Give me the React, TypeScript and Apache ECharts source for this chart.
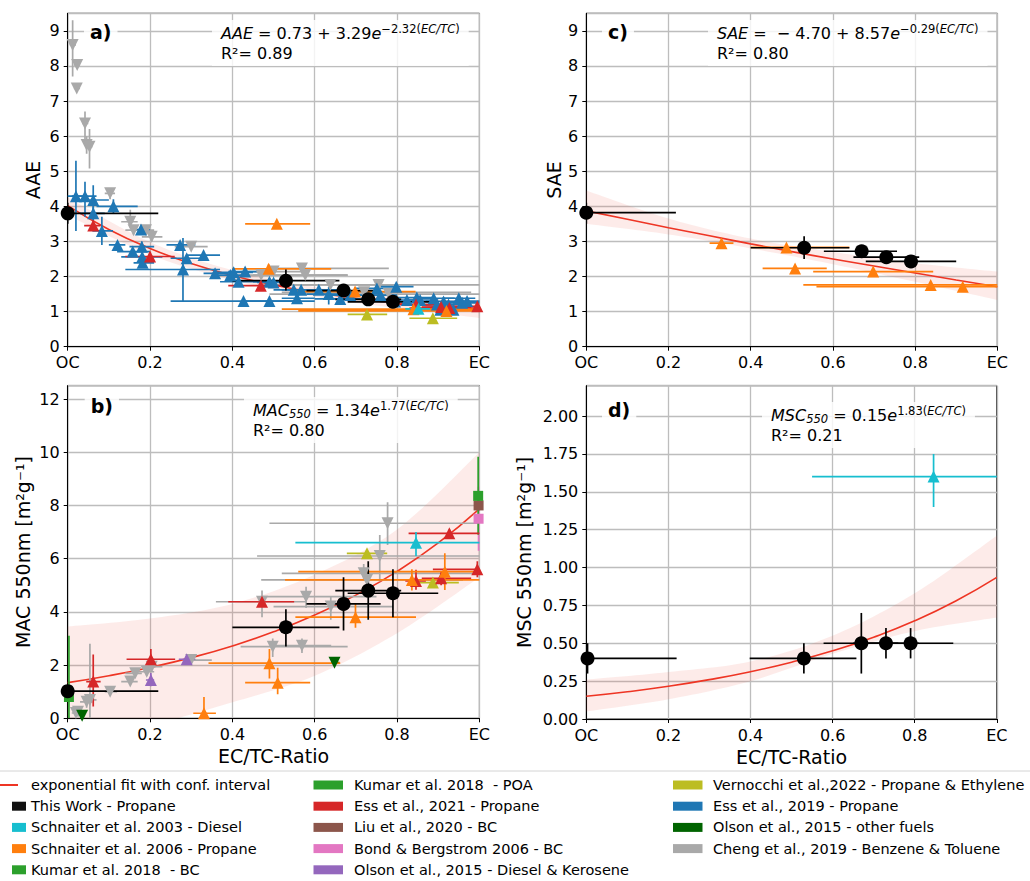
import React, { useEffect, useRef } from "react";
import * as echarts from "echarts";

const FONT = "DejaVu Sans";

// ---------- fit curves (read at EC/TC = 0, 0.1 ... 1.0) ----------
const fitX = [0, 0.1, 0.2, 0.3, 0.4, 0.5, 0.6, 0.7, 0.8, 0.9, 1.0];
const fitAAE = [4.02, 3.34, 2.8, 2.37, 2.03, 1.76, 1.55, 1.38, 1.24, 1.14, 1.05];
const fitSAE = [3.87, 3.63, 3.39, 3.16, 2.93, 2.71, 2.5, 2.3, 2.1, 1.9, 1.71];
const fitMAC = [1.34, 1.6, 1.91, 2.28, 2.72, 3.25, 3.88, 4.63, 5.52, 6.59, 7.87];
const fitMSC = [0.15, 0.18, 0.216, 0.26, 0.312, 0.375, 0.45, 0.54, 0.648, 0.779, 0.935];

// ---------- confidence bands ----------
const bandX = [0, 0.2, 0.4, 0.6, 0.8, 1.0];
const bandAAELo = [3.75, 2.62, 1.9, 1.42, 1.1, 0.82];
const bandAAEHi = [4.25, 2.98, 2.18, 1.7, 1.42, 1.3];
const bandSAELo = [3.5, 3.2, 2.8, 2.35, 1.85, 1.33];
const bandSAEHi = [4.45, 3.65, 3.08, 2.7, 2.38, 2.14];
const bandMACLo = [-0.8, -0.25, 0.6, 1.6, 3.2, 5.3];
const bandMACHi = [3.45, 3.75, 4.3, 5.4, 7.1, 10.0];
const bandMSCLo = [0.05, 0.13, 0.25, 0.43, 0.58, 0.67];
const bandMSCHi = [0.26, 0.31, 0.38, 0.55, 0.83, 1.21];

// ---------- data points: [x, y, xLow, xHigh, yLow, yHigh] ----------
// Panel a) AAE
const thisWorkA = [
  [0, 3.8, 0, 0.22, 3.5, 4.1],
  [0.53, 1.88, 0.4, 0.66, 1.6, 2.2],
  [0.67, 1.6, 0.58, 0.76, 1.45, 1.75],
  [0.73, 1.35, 0.65, 0.81, 1.25, 1.45],
  [0.79, 1.28, 0.68, 0.9, 1.2, 1.38],
];
const schnaiter03A = [[0.852, 1.08, 0.82, 0.88, 1.0, 1.15]];
const schnaiter06A = [
  [0.508, 3.5, 0.431, 0.589, 3.5, 3.5],
  [0.488, 2.22, 0.4, 0.64, 2.1, 2.35],
  [0.698, 1.57, 0.55, 0.845, 1.45, 1.7],
  [0.84, 1.07, 0.52, 1.0, 1.07, 1.07],
  [0.92, 1.02, 0.56, 1.0, 1.02, 1.02],
];
const ess21A = [
  [0.062, 3.45, 0.04, 0.08, 3.3, 3.6],
  [0.2, 2.57, 0.14, 0.26, 2.45, 2.7],
  [0.469, 1.74, 0.39, 0.52, 1.65, 1.85],
  [0.846, 1.2, 0.8, 0.9, 1.1, 1.3],
  [0.907, 1.13, 0.86, 0.98, 1.05, 1.2],
  [0.927, 1.1, 0.83, 1.0, 1.0, 1.2],
  [0.995, 1.15, 0.89, 1.0, 1.05, 1.25],
];
const vernocchiA = [
  [0.727, 0.92, 0.68, 0.776, 0.92, 0.92],
  [0.887, 0.81, 0.83, 0.946, 0.81, 0.81],
];
const ess19A = [
  [0.02, 4.29, 0.0, 0.04, 3.3, 5.3],
  [0.042, 4.29, 0.01, 0.07, 3.7, 4.7],
  [0.062, 4.18, 0.02, 0.1, 3.6, 4.6],
  [0.111, 4.0, 0.07, 0.17, 3.8, 4.2],
  [0.062, 3.8, 0.03, 0.09, 3.6, 4.0],
  [0.083, 3.3, 0.06, 0.11, 2.9, 3.7],
  [0.121, 2.9, 0.1, 0.14, 2.8, 3.0],
  [0.158, 2.71, 0.12, 0.2, 2.6, 2.8],
  [0.178, 3.34, 0.16, 0.2, 3.2, 3.45],
  [0.18, 2.85, 0.15, 0.21, 2.7, 3.0],
  [0.181, 2.56, 0.13, 0.23, 2.45, 2.7],
  [0.182, 2.39, 0.16, 0.21, 2.3, 2.5],
  [0.273, 2.9, 0.24, 0.31, 2.8, 3.0],
  [0.289, 2.52, 0.25, 0.33, 2.4, 2.6],
  [0.28, 2.2, 0.14, 0.37, 1.3, 3.1],
  [0.33, 2.61, 0.29, 0.37, 2.5, 2.7],
  [0.358, 2.09, 0.33, 0.39, 2.0, 2.2],
  [0.395, 2.04, 0.35, 0.44, 1.95, 2.15],
  [0.403, 2.12, 0.36, 0.45, 2.0, 2.25],
  [0.415, 1.85, 0.37, 0.46, 1.75, 1.95],
  [0.431, 2.14, 0.39, 0.47, 2.05, 2.25],
  [0.427, 1.3, 0.25, 0.6, 1.3, 1.3],
  [0.49, 1.3, 0.43, 0.55, 1.3, 1.3],
  [0.49, 1.85, 0.45, 0.53, 1.75, 1.95],
  [0.5, 1.83, 0.46, 0.54, 1.75, 1.9],
  [0.549, 1.62, 0.5, 0.6, 1.55, 1.7],
  [0.557, 1.38, 0.52, 0.6, 1.3, 1.45],
  [0.567, 1.62, 0.52, 0.61, 1.55, 1.7],
  [0.61, 1.62, 0.56, 0.66, 1.55, 1.7],
  [0.634, 1.5, 0.58, 0.69, 1.2, 1.7],
  [0.662, 1.36, 0.6, 0.72, 1.3, 1.45],
  [0.686, 1.47, 0.64, 0.73, 1.4, 1.55],
  [0.751, 1.66, 0.7, 0.8, 1.5, 1.8],
  [0.76, 1.47, 0.72, 0.8, 1.4, 1.55],
  [0.798, 1.71, 0.76, 0.84, 1.6, 1.8],
  [0.795, 1.29, 0.76, 0.83, 1.2, 1.35],
  [0.824, 1.33, 0.79, 0.86, 1.25, 1.4],
  [0.848, 1.4, 0.8, 0.89, 1.3, 1.5],
  [0.856, 1.33, 0.82, 0.9, 1.25, 1.4],
  [0.889, 1.38, 0.84, 0.94, 1.3, 1.45],
  [0.897, 1.2, 0.86, 0.94, 1.1, 1.3],
  [0.913, 1.29, 0.87, 0.96, 1.2, 1.35],
  [0.925, 1.2, 0.89, 0.96, 1.1, 1.3],
  [0.937, 1.05, 0.9, 0.97, 1.0, 1.1],
  [0.905, 1.05, 0.87, 0.94, 1.0, 1.1],
  [0.95, 1.38, 0.91, 0.99, 1.3, 1.45],
  [0.958, 1.25, 0.92, 1.0, 1.15, 1.35],
  [0.97, 1.3, 0.94, 1.0, 1.2, 1.4],
];
const chengA = [
  [0.012, 8.6, 0.005, 0.02, 7.7, 9.3],
  [0.023, 8.03, 0.015, 0.03, 8.03, 8.03],
  [0.022, 7.36, 0.015, 0.03, 7.36, 7.36],
  [0.042, 6.36, 0.035, 0.05, 5.9, 6.7],
  [0.046, 5.75, 0.04, 0.055, 5.5, 6.0],
  [0.053, 5.7, 0.045, 0.06, 5.08, 6.2],
  [0.103, 4.37, 0.09, 0.115, 4.2, 4.5],
  [0.152, 3.56, 0.13, 0.17, 3.4, 3.9],
  [0.16, 3.32, 0.14, 0.18, 3.2, 3.45],
  [0.19, 3.32, 0.17, 0.21, 3.2, 3.45],
  [0.204, 3.13, 0.18, 0.23, 3.0, 3.3],
  [0.3, 2.85, 0.26, 0.34, 2.75, 2.95],
  [0.47, 2.04, 0.42, 0.68, 2.0, 2.1],
  [0.5, 2.14, 0.42, 0.58, 2.05, 2.25],
  [0.569, 2.23, 0.49, 0.78, 2.15, 2.3],
  [0.577, 2.04, 0.45, 0.68, 1.95, 2.1],
  [0.638, 1.76, 0.5, 0.79, 1.7, 1.85],
  [0.72, 1.55, 0.52, 0.98, 1.5, 1.6],
  [0.755, 1.76, 0.47, 1.0, 1.7, 1.85],
  [0.78, 1.5, 0.49, 1.0, 1.45, 1.55],
];

// Panel b) MAC 550nm
const thisWorkB = [
  [0, 1.02, 0, 0.22, 1.02, 1.02],
  [0.53, 3.42, 0.4, 0.66, 2.7, 4.1],
  [0.67, 4.3, 0.58, 0.76, 3.3, 5.3],
  [0.73, 4.8, 0.65, 0.81, 3.7, 5.9],
  [0.79, 4.7, 0.68, 0.9, 3.8, 5.6],
];
const schnaiter03B = [[0.846, 6.6, 0.553, 1.0, 6.1, 7.0]];
const schnaiter06B = [
  [0.331, 0.19, 0.305, 0.36, 0, 0.8],
  [0.49, 2.07, 0.342, 0.662, 1.5, 2.6],
  [0.51, 1.34, 0.431, 0.589, 0.9, 1.9],
  [0.699, 3.8, 0.553, 0.846, 3.4, 4.3],
  [0.836, 5.2, 0.528, 1.0, 4.8, 5.6],
  [0.916, 5.51, 0.56, 1.0, 4.82, 6.2],
];
const kumarBCB = [[0.997, 8.36, 0.99, 1.0, 6.9, 9.83]];
const kumarPOAB = [[0.003, 0.8, 0, 0.01, 0, 3.1]];
const ess21B = [
  [0.062, 1.38, 0.045, 0.08, 0.44, 2.4],
  [0.202, 2.22, 0.143, 0.261, 1.9, 2.6],
  [0.472, 4.38, 0.39, 0.55, 4.2, 4.6],
  [0.846, 5.16, 0.82, 0.87, 4.83, 5.58],
  [0.907, 5.26, 0.86, 0.98, 5.0, 5.5],
  [0.927, 6.95, 0.828, 1.0, 6.8, 7.1],
  [0.995, 5.6, 0.887, 1.0, 5.3, 5.9],
];
const liuB = [[0.998, 8.0, 0.99, 1.0, 7.8, 8.2]];
const bondB = [[0.998, 7.5, 0.99, 1.0, 6.3, 8.7]];
const olsonDKB = [
  [0.202, 1.44, 0.19, 0.21, 1.2, 1.7],
  [0.289, 2.22, 0.27, 0.31, 2.1, 2.35],
];
const vernocchiB = [
  [0.727, 6.2, 0.678, 0.776, 6.2, 6.2],
  [0.887, 5.1, 0.83, 0.95, 5.1, 5.1],
];
const olsonOtherB = [
  [0.648, 2.09, 0.64, 0.66, 2.09, 2.09],
  [0.035, 0.1, 0.03, 0.04, 0.1, 0.1],
];
const chengB = [
  [0.02, 0.2, 0.01, 0.03, 0.1, 0.3],
  [0.025, 0.25, 0.015, 0.035, 0.1, 0.4],
  [0.046, 0.62, 0.03, 0.06, 0.4, 0.8],
  [0.054, 0.69, 0.04, 0.07, 0, 2.8],
  [0.103, 1.0, 0.09, 0.12, 0.9, 1.1],
  [0.152, 1.38, 0.13, 0.17, 1.25, 1.5],
  [0.164, 1.69, 0.14, 0.18, 1.55, 1.8],
  [0.192, 1.75, 0.17, 0.21, 1.6, 1.9],
  [0.204, 1.94, 0.18, 0.23, 1.8, 2.1],
  [0.3, 2.19, 0.28, 0.35, 2.1, 2.3],
  [0.472, 4.38, 0.36, 0.58, 3.8, 4.8],
  [0.498, 2.69, 0.42, 0.68, 2.3, 3.0],
  [0.569, 2.73, 0.5, 0.64, 2.45, 3.0],
  [0.579, 4.57, 0.47, 0.75, 4.15, 4.94],
  [0.639, 4.2, 0.5, 0.79, 3.7, 4.6],
  [0.719, 5.45, 0.52, 0.985, 5.2, 5.8],
  [0.727, 5.2, 0.47, 0.96, 4.9, 5.4],
  [0.758, 6.1, 0.46, 1.0, 5.14, 6.89],
  [0.777, 7.33, 0.49, 1.0, 6.51, 8.12],
];

// Panel c) SAE
const thisWorkC = [
  [0, 3.82, 0, 0.218, 3.5, 4.1],
  [0.53, 2.82, 0.4, 0.64, 2.5, 3.15],
  [0.67, 2.72, 0.578, 0.756, 2.62, 2.82],
  [0.73, 2.55, 0.65, 0.81, 2.45, 2.65],
  [0.79, 2.43, 0.68, 0.9, 2.33, 2.53],
];
const schnaiter06C = [
  [0.329, 2.95, 0.3, 0.358, 2.85, 3.05],
  [0.487, 2.83, 0.4, 0.64, 2.75, 2.9],
  [0.508, 2.23, 0.429, 0.585, 2.15, 2.3],
  [0.698, 2.14, 0.552, 0.844, 2.05, 2.2],
  [0.838, 1.76, 0.528, 1.0, 1.7, 1.82],
  [0.916, 1.71, 0.56, 1.0, 1.65, 1.77],
];

// Panel d) MSC 550nm
const thisWorkD = [
  [0.003, 0.4, 0, 0.22, 0.3, 0.5],
  [0.53, 0.4, 0.398, 0.658, 0.3, 0.5],
  [0.67, 0.5, 0.578, 0.76, 0.3, 0.7],
  [0.73, 0.5, 0.65, 0.81, 0.4, 0.6],
  [0.79, 0.5, 0.68, 0.894, 0.4, 0.6],
];
const schnaiter03D = [[0.846, 1.6, 0.55, 1.0, 1.4, 1.75]];

// ---------- legend ----------
const legendLabels = [
  "exponential fit with conf. interval",
  "This Work - Propane",
  "Schnaiter et al. 2003 - Diesel",
  "Schnaiter et al. 2006 - Propane",
  "Kumar et al. 2018  - BC",
  "Kumar et al. 2018  - POA",
  "Ess et al., 2021 - Propane",
  "Liu et al., 2020 - BC",
  "Bond & Bergstrom 2006 - BC",
  "Olson et al., 2015 - Diesel & Kerosene",
  "Vernocchi et al.,2022 - Propane & Ethylene",
  "Ess et al., 2019 - Propane",
  "Olson et al., 2015 - other fuels",
  "Cheng et al., 2019 - Benzene & Toluene",
];
const legendColors = [
  "#ee3524", "#111111", "#17becf", "#ff7f0e", "#2ca02c",
  "#2ca02c", "#d62728", "#8c564b", "#e377c2", "#9467bd",
  "#bcbd22", "#1f77b4", "#006400", "#a9a9a9",
];

const FIT_COLOR = "#ee3524";
const BAND_COLOR = "rgba(240, 90, 70, 0.12)";

const styles: Record<string, any> = {
  cheng: { color: "#a9a9a9", symbol: "triangle", rotate: 180, size: 12 },
  ess19: { color: "#1f77b4", symbol: "triangle", rotate: 0, size: 12 },
  olsonOther: { color: "#006400", symbol: "triangle", rotate: 180, size: 12 },
  olsonDK: { color: "#9467bd", symbol: "triangle", rotate: 0, size: 12 },
  bond: { color: "#e377c2", symbol: "rect", rotate: 0, size: 10 },
  liu: { color: "#8c564b", symbol: "rect", rotate: 0, size: 10 },
  kumarPOA: { color: "#2ca02c", symbol: "rect", rotate: 0, size: 10 },
  kumarBC: { color: "#2ca02c", symbol: "rect", rotate: 0, size: 10 },
  vernocchi: { color: "#bcbd22", symbol: "triangle", rotate: 0, size: 12 },
  ess21: { color: "#d62728", symbol: "triangle", rotate: 0, size: 12 },
  schnaiter06: { color: "#ff7f0e", symbol: "triangle", rotate: 0, size: 12 },
  schnaiter03: { color: "#17becf", symbol: "triangle", rotate: 0, size: 12 },
  thisWork: { color: "#000000", symbol: "circle", rotate: 0, size: 14 },
};

// panel index: 0 = a, 1 = c, 2 = b, 3 = d
const panelData: [string, number, number[][]][] = [
  ["cheng", 0, chengA], ["ess19", 0, ess19A], ["vernocchi", 0, vernocchiA],
  ["ess21", 0, ess21A], ["schnaiter06", 0, schnaiter06A], ["schnaiter03", 0, schnaiter03A],
  ["thisWork", 0, thisWorkA],
  ["schnaiter06", 1, schnaiter06C], ["thisWork", 1, thisWorkC],
  ["cheng", 2, chengB], ["olsonOther", 2, olsonOtherB], ["olsonDK", 2, olsonDKB],
  ["bond", 2, bondB], ["liu", 2, liuB], ["kumarPOA", 2, kumarPOAB], ["kumarBC", 2, kumarBCB],
  ["vernocchi", 2, vernocchiB], ["ess21", 2, ess21B], ["schnaiter06", 2, schnaiter06B],
  ["schnaiter03", 2, schnaiter03B], ["thisWork", 2, thisWorkB],
  ["schnaiter03", 3, schnaiter03D], ["thisWork", 3, thisWorkD],
];

const fits: [number, number[], number[], number[]][] = [
  [0, fitAAE, bandAAELo, bandAAEHi],
  [1, fitSAE, bandSAELo, bandSAEHi],
  [2, fitMAC, bandMACLo, bandMACHi],
  [3, fitMSC, bandMSCLo, bandMSCHi],
];

const grids = [
  { left: 67.7, top: 13.3, width: 411.7, height: 333.4 },
  { left: 586.3, top: 13.3, width: 411, height: 333.4 },
  { left: 67.7, top: 385.7, width: 411.7, height: 332.6 },
  { left: 586.3, top: 385.7, width: 410.5, height: 333.3 },
];

const yAxesCfg = [
  { name: "AAE", max: 9.5, interval: 1, gap: 25, dec: 0 },
  { name: "SAE", max: 9.5, interval: 1, gap: 23, dec: 0 },
  { name: "MAC 550nm [m²g⁻¹]", max: 12.5, interval: 2, gap: 35, dec: 0 },
  { name: "MSC 550nm [m²g⁻¹]", max: 2.2, interval: 0.25, gap: 53, dec: 2 },
];

// smooth (Catmull-Rom) drawing of a pixel polyline, used only for rendering the band outline
function smoothPx(pts: number[][]): number[][] {
  const out: number[][] = [];
  const n = pts.length;
  for (let i = 0; i < n - 1; i++) {
    const p0 = pts[Math.max(0, i - 1)], p1 = pts[i], p2 = pts[i + 1], p3 = pts[Math.min(n - 1, i + 2)];
    const steps = 14;
    for (let s = 0; s < steps; s++) {
      const t = s / steps, t2 = t * t, t3 = t2 * t;
      const f = (k: number) =>
        0.5 * (2 * p1[k] + (-p0[k] + p2[k]) * t + (2 * p0[k] - 5 * p1[k] + 4 * p2[k] - p3[k]) * t2 +
          (-p0[k] + 3 * p1[k] - 3 * p2[k] + p3[k]) * t3);
      out.push([f(0), f(1)]);
    }
  }
  out.push(pts[n - 1]);
  return out;
}

function bandRender(lo: number[], hi: number[]) {
  return (params: any, api: any) => {
    const top = bandX.map((x, i) => api.coord([x, hi[i]]));
    const bot = bandX.map((x, i) => api.coord([x, lo[i]]));
    const pts = [...smoothPx(top), ...smoothPx(bot).reverse()];
    return { type: "polygon", shape: { points: pts }, style: { fill: BAND_COLOR } };
  };
}

function errRender(color: string) {
  return (params: any, api: any) => {
    const x = api.value(0), y = api.value(1);
    const xl = api.value(2), xh = api.value(3), yl = api.value(4), yh = api.value(5);
    const st = { stroke: color, lineWidth: 1.7 };
    const children: any[] = [];
    if (xh > xl) {
      const a = api.coord([xl, y]); const b = api.coord([xh, y]);
      children.push({ type: "line", shape: { x1: a[0], y1: a[1], x2: b[0], y2: b[1] }, style: st });
    }
    if (yh > yl) {
      const a = api.coord([x, yl]); const b = api.coord([x, yh]);
      children.push({ type: "line", shape: { x1: a[0], y1: a[1], x2: b[0], y2: b[1] }, style: st });
    }
    return { type: "group", children };
  };
}

function buildOption() {
  const series: any[] = [];
  fits.forEach(([gi, fit, lo, hi]) => {
    series.push({
      type: "custom", xAxisIndex: gi, yAxisIndex: gi, clip: true, silent: true, z: 1,
      data: [[bandX[0], lo[0]]], encode: { x: 0, y: 1 }, renderItem: bandRender(lo, hi),
    });
    series.push({
      type: "line", xAxisIndex: gi, yAxisIndex: gi,
      data: fitX.map((x, i) => [x, fit[i]]), smooth: true, symbol: "none",
      lineStyle: { color: FIT_COLOR, width: 1.6 }, silent: true, z: 2,
    });
  });
  panelData.forEach(([key, gi, data]) => {
    const s = styles[key];
    series.push({
      type: "custom", xAxisIndex: gi, yAxisIndex: gi, data, clip: true,
      encode: { x: 0, y: 1 }, renderItem: errRender(s.color), silent: true, z: 3,
    });
    series.push({
      type: "scatter", xAxisIndex: gi, yAxisIndex: gi, data: data.map((d) => [d[0], d[1]]),
      symbol: s.symbol, symbolSize: s.size, symbolRotate: s.rotate, clip: true,
      itemStyle: { color: s.color, opacity: 1 }, silent: true, z: 3,
    });
  });

  const xFmt = (v: number) => (Math.abs(v) < 1e-9 ? "OC" : Math.abs(v - 1) < 1e-9 ? "EC" : v.toFixed(1));

  const graphic: any[] = [];
  const panelLabels = [
    ["a)", 84, 21], ["c)", 602, 21], ["b)", 84.7, 395], ["d)", 602, 399],
  ];
  panelLabels.forEach(([t, x, y]) => {
    graphic.push({
      type: "text", left: x, top: y, z: 100,
      style: { text: t, fontSize: 19, fontWeight: "bold", fontFamily: FONT, fill: "#000",
        backgroundColor: "rgba(255,255,255,0.85)", padding: [1, 6, 1, 6] },
    });
  });
  const rich = {
    n: { fontSize: 16, fontFamily: FONT, lineHeight: 20, fill: "#000" },
    i: { fontSize: 16, fontFamily: FONT, fontStyle: "italic", lineHeight: 20, fill: "#000" },
    s: { fontSize: 11.5, fontFamily: FONT, lineHeight: 10, verticalAlign: "top", fill: "#000" },
    si: { fontSize: 11.5, fontFamily: FONT, fontStyle: "italic", lineHeight: 10, verticalAlign: "top", fill: "#000" },
    sub: { fontSize: 11.5, fontFamily: FONT, fontStyle: "italic", lineHeight: 10, verticalAlign: "bottom", fill: "#000" },
  };
  const annots = [
    ["{i|AAE}{n| = 0.73 + 3.29}{i|e}{s|−2.32(}{si|EC/TC}{s|)}\n{n|R²= 0.89}", 212, 20],
    ["{i|SAE}{n| =  − 4.70 + 8.57}{i|e}{s|−0.29(}{si|EC/TC}{s|)}\n{n|R²= 0.80}", 708, 20],
    ["{i|MAC}{sub|550}{n| = 1.34}{i|e}{s|1.77(}{si|EC/TC}{s|)}\n{n|R²= 0.80}", 244, 397],
    ["{i|MSC}{sub|550}{n| = 0.15}{i|e}{s|1.83(}{si|EC/TC}{s|)}\n{n|R²= 0.21}", 762, 402],
  ];
  annots.forEach(([t, x, y]) => {
    graphic.push({
      type: "text", left: x, top: y, z: 100,
      style: { text: t, rich, fontSize: 16, fontFamily: FONT, fill: "#000",
        backgroundColor: "rgba(255,255,255,0.82)", padding: [3, 9, 3, 9] },
    });
  });

  // legend
  graphic.push({
    type: "rect", shape: { x: -10, y: 771, width: 1050, height: 130 }, z: 90,
    style: { fill: "#fff", stroke: "#d4d4d4", lineWidth: 1 },
  });
  const colX = [[0, 12, 31], [313.5, 313.5, 354], [673, 673, 713]];
  legendLabels.forEach((label, i) => {
    const col = Math.floor(i / 5), row = i % 5;
    const yc = 785 + row * 21.2;
    if (i === 0) {
      graphic.push({ type: "line", z: 100, shape: { x1: 0, y1: yc, x2: 18, y2: yc },
        style: { stroke: legendColors[i], lineWidth: 2 } });
    } else {
      const bx = colX[col][1];
      const bw = col === 0 ? 14 : 29.5;
      graphic.push({ type: "rect", z: 100, shape: { x: bx, y: yc - 4.5, width: bw, height: 9 },
        style: { fill: legendColors[i] } });
    }
    graphic.push({ type: "text", z: 100, x: colX[col][2], y: yc,
      style: { text: label, fontSize: 14.5, fontFamily: FONT, fill: "#000", verticalAlign: "middle", align: "left" } });
  });

  return {
    animation: false,
    backgroundColor: "#ffffff",
    textStyle: { fontFamily: FONT },
    grid: grids.map((g) => ({ ...g, show: true, borderColor: "#000", borderWidth: 1,
      backgroundColor: "transparent", containLabel: false, outerBoundsMode: "none" })),
    xAxis: [0, 1, 2, 3].map((i) => ({
      type: "value", gridIndex: i, min: 0, max: 1, interval: 0.2,
      name: i >= 2 ? "EC/TC-Ratio" : "", nameLocation: "middle", nameGap: 28,
      nameTextStyle: { fontSize: 19, color: "#000", fontFamily: FONT },
      axisLine: { show: true, onZero: false, lineStyle: { color: "#000", width: 1 } },
      axisTick: { show: true, length: 4, inside: false, lineStyle: { color: "#000", width: 1 } },
      axisLabel: { fontSize: 16, color: "#000", margin: 8, fontFamily: FONT, formatter: xFmt },
      splitLine: { show: true, lineStyle: { color: "#bdbdbd", width: 1.3 } },
    })),
    yAxis: yAxesCfg.map((c, i) => ({
      type: "value", gridIndex: i, min: 0, max: c.max, interval: c.interval,
      name: c.name, nameLocation: "middle", nameGap: c.gap,
      nameTextStyle: { fontSize: 19, color: "#000", fontFamily: FONT },
      axisLine: { show: true, onZero: false, lineStyle: { color: "#000", width: 1 } },
      axisTick: { show: true, length: 4, inside: false, lineStyle: { color: "#000", width: 1 } },
      axisLabel: { fontSize: 16, color: "#000", margin: 8, fontFamily: FONT, showMaxLabel: false,
        formatter: (v: number) => v.toFixed(c.dec) },
      splitLine: { show: true, lineStyle: { color: "#bdbdbd", width: 1.3 } },
    })),
    series,
    graphic,
  };
}

export default function App() {
  const ref = useRef<HTMLDivElement>(null);
  useEffect(() => {
    if (!ref.current) return;
    const chart = echarts.init(ref.current, undefined, { renderer: "svg" });
    chart.setOption(buildOption() as any);
    return () => chart.dispose();
  }, []);
  return (
    <div
      ref={ref}
      style={{ position: "absolute", left: 0, top: 0, width: 1030, height: 881, background: "#fff" }}
    />
  );
}
